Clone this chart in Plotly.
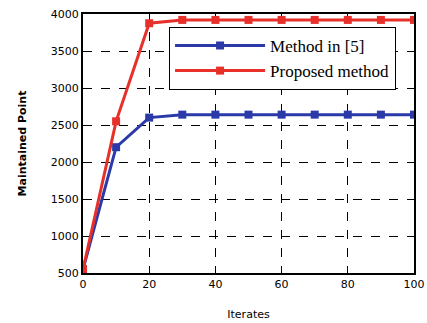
import plotly.graph_objects as go

iterates = [0, 10, 20, 30, 40, 50, 60, 70, 80, 90, 100]
method5 = [550, 2200, 2600, 2640, 2640, 2640, 2640, 2640, 2640, 2640, 2640]
proposed = [550, 2550, 3875, 3920, 3920, 3920, 3920, 3920, 3920, 3920, 3920]

fig = go.Figure()
fig.add_trace(go.Scatter(x=iterates, y=method5, mode="lines+markers", name="Method in [5]",
                         line=dict(color="#2b3aa8", width=3),
                         marker=dict(symbol="square", size=8, color="#2b3aa8")))
fig.add_trace(go.Scatter(x=iterates, y=proposed, mode="lines+markers", name="Proposed method",
                         line=dict(color="#e8302a", width=3),
                         marker=dict(symbol="square", size=8, color="#e8302a")))

axis_common = dict(showline=True, linecolor="black", linewidth=2, mirror=True,
                   showgrid=True, gridcolor="black", griddash="dash", gridwidth=1,
                   ticks="inside", ticklen=4, tickcolor="black", zeroline=False,
                   automargin=False, ticklabeloverflow="allow",
                   tickfont=dict(family="DejaVu Sans", size=11, color="black"))

fig.update_layout(
    width=427, height=323, autosize=False,
    margin=dict(l=83, r=13, t=14, b=50),
    paper_bgcolor="white", plot_bgcolor="white",
    showlegend=True,
    legend=dict(x=0.26, y=0.95, xanchor="left", yanchor="top",
                bgcolor="white", bordercolor="black", borderwidth=1,
                font=dict(family="Liberation Serif", size=17, color="black"),
                itemwidth=90, tracegroupgap=4),
    xaxis=dict(range=[0, 100], tickvals=[0, 20, 40, 60, 80, 100],
               title=dict(text="Iterates", font=dict(family="DejaVu Sans", size=11, color="black"), standoff=20),
               **axis_common),
    yaxis=dict(range=[500, 4000], tickvals=[500, 1000, 1500, 2000, 2500, 3000, 3500, 4000],
               title=dict(text="<b>Maintained Point</b>", font=dict(family="DejaVu Sans", size=11, color="black"), standoff=22),
               **axis_common),
)

fig.write_html("out.html", config={"responsive": False, "displayModeBar": False},
               post_script="document.body.style.margin='0';")
